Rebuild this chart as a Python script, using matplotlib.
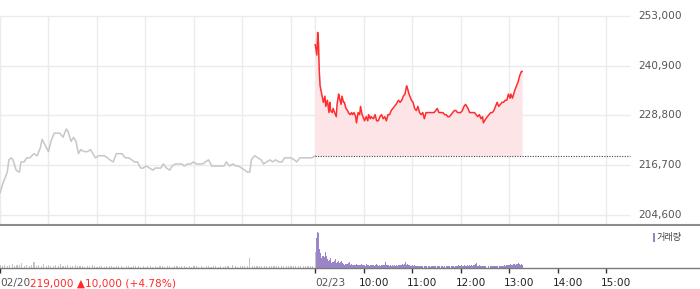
import numpy as np
import matplotlib.pyplot as plt
from matplotlib.patches import Rectangle

# x axis is minutes after 09:00; 02/23 session is drawn right after the 02/20 one
SESSION = 390

# 02/20 price (grey)
day1_min = [0, 4, 6, 9, 11, 14, 16, 20, 24, 26, 30, 33, 37, 42, 46, 50, 52, 56, 60, 63,
            67, 71, 74, 78, 82, 84, 88, 91, 94, 97, 100, 104, 108, 112, 115, 118, 122, 125, 129, 133,
            136, 140, 144, 148, 151, 155, 159, 163, 166, 170, 174, 177, 181, 185, 189, 192, 196, 199, 202, 206,
            210, 213, 217, 221, 225, 228, 232, 236, 239, 243, 247, 251, 254, 258, 262, 266, 269, 273, 277, 280,
            284, 288, 292, 295, 299, 303, 306, 309, 311, 315, 319, 323, 326, 330, 334, 337, 341, 345, 349, 352,
            356, 360, 364, 367, 371, 375, 378, 382, 386, 390]
day1_price = [210000, 212500, 213500, 215000, 218000, 218500, 218000, 215500, 215000, 217500,
              217500, 218500, 218500, 219500, 219000, 221000, 223000, 221500, 220000, 222500,
              224500, 224500, 224500, 223500, 225500, 225000, 222500, 223500, 222500, 219500,
              220500, 220000, 220000, 220500, 219500, 218500, 219000, 219000, 219000, 218500,
              218000, 217500, 219500, 219500, 219500, 218500, 218500, 218000, 217500, 217500,
              216000, 216000, 216500, 216000, 215500, 216000, 216000, 216000, 217000, 216000,
              215500, 216500, 217000, 217000, 217000, 216500, 217000, 217000, 217500, 217000,
              217000, 217000, 217500, 218000, 216500, 216500, 216500, 216500, 216500, 217500,
              216500, 217000, 216500, 216500, 216000, 215500, 215000, 215000, 218000, 219000,
              218500, 218000, 217000, 217500, 218000, 217500, 218000, 217500, 217500, 218500,
              218500, 218500, 218000, 217500, 218500, 218500, 218500, 218500, 218500, 219000]

# 02/23 price (red)
day2_min = [0, 2, 3, 4, 5, 6, 8, 10, 12, 13, 15, 17, 18, 19, 21, 22, 24, 26, 27, 29,
            30, 32, 33, 35, 36, 38, 40, 41, 43, 45, 46, 48, 50, 51, 53, 55, 56, 58, 60, 61,
            63, 65, 66, 68, 69, 72, 74, 76, 78, 80, 82, 84, 86, 88, 90, 92, 94, 96, 98, 100,
            103, 105, 107, 109, 111, 113, 114, 116, 118, 119, 121, 123, 125, 127, 129, 131, 133, 135, 137, 139,
            141, 143, 145, 147, 149, 151, 153, 155, 158, 160, 162, 164, 166, 168, 170, 172, 174, 176, 178, 180,
            182, 184, 186, 189, 191, 193, 195, 197, 199, 201, 203, 205, 207, 208, 211, 213, 215, 217, 219, 221,
            223, 225, 227, 229, 231, 233, 235, 237, 239, 241, 242, 244, 247, 249, 251, 253, 255, 256]
day2_price = [246000, 243500, 249000, 246500, 239500, 236000, 234000, 232000, 233500, 231000,
              232500, 229500, 232000, 230000, 229500, 230500, 229500, 228500, 231500, 234000,
              233000, 231500, 233500, 232000, 232000, 230500, 230000, 229500, 229000, 229500,
              229000, 229500, 228500, 227000, 229500, 229000, 231000, 229000, 228000, 227500,
              228500, 227500, 229000, 228000, 228500, 228000, 229000, 227500, 227500, 228500,
              229000, 228000, 228500, 227500, 229000, 229000, 230000, 230500, 231000, 231500,
              232500, 232000, 232500, 233500, 234000, 236000, 235500, 234000, 233000, 232500,
              232000, 230500, 230000, 231000, 229500, 229000, 229500, 228000, 229500, 229500,
              229500, 229500, 229500, 229500, 230000, 230500, 229500, 229500, 229500, 229000,
              229000, 228500, 228500, 229000, 229500, 230000, 230000, 229500, 229500, 229500,
              230000, 231000, 231500, 230500, 229500, 229500, 229500, 229500, 229000, 228500,
              229000, 228000, 228500, 227000, 228000, 228500, 229000, 229500, 229500, 230000,
              231000, 232000, 231000, 231500, 232000, 232000, 232500, 232500, 234000, 233000,
              234000, 233000, 235000, 236000, 237000, 238500, 239500, 239500]

prev_close = 219000
price_ticks = [204600, 216700, 228800, 240900, 253000]

# volume (thousand shares), 02/20 every 3 minutes, 02/23 every minute
vol1_min = list(range(0, 391, 3))
vol1 = [3, 2, 3, 2, 3, 4, 2, 3, 3, 5,
        2, 3, 2, 3, 6, 2, 3, 2, 4, 2,
        3, 2, 2, 3, 2, 4, 2, 2, 3, 2,
        2, 3, 2, 2, 2, 1, 2, 2, 3, 2,
        1, 2, 2, 1, 2, 2, 2, 1, 2, 2,
        2, 1, 2, 2, 1, 2, 2, 2, 1, 2,
        1, 2, 2, 1, 2, 1, 2, 2, 1, 2,
        2, 1, 2, 2, 1, 2, 2, 1, 2, 1,
        2, 2, 1, 2, 1, 2, 2, 1, 2, 2,
        1, 2, 1, 2, 2, 0, 3, 2, 1, 2,
        2, 2, 2, 10, 2, 2, 2, 2, 2, 2,
        2, 2, 2, 2, 2, 2, 2, 2, 2, 2,
        2, 2, 2, 2, 2, 2, 2, 2, 2, 2,
        16]
vol2 = [0, 0, 30, 36, 35, 19, 13, 15, 10, 12,
        12, 7, 11, 16, 12, 9, 7, 6, 8, 10,
        5, 6, 6, 6, 7, 9, 5, 6, 6, 7,
        5, 6, 5, 7, 5, 4, 3, 4, 3, 4,
        4, 5, 6, 3, 3, 4, 3, 3, 2, 3,
        3, 4, 3, 3, 2, 3, 3, 4, 3, 3,
        3, 3, 2, 3, 4, 3, 3, 2, 3, 3,
        2, 3, 3, 2, 3, 3, 4, 3, 2, 3,
        3, 2, 3, 3, 2, 3, 3, 6, 3, 2,
        3, 3, 2, 3, 2, 3, 3, 2, 3, 2,
        3, 2, 2, 3, 3, 2, 3, 3, 4, 3,
        4, 3, 6, 3, 4, 3, 2, 3, 2, 2,
        3, 2, 2, 3, 2, 2, 2, 0, 2, 2,
        2, 1, 2, 2, 0, 2, 2, 1, 2, 0,
        2, 2, 1, 0, 2, 2, 2, 1, 2, 2,
        0, 2, 2, 1, 2, 0, 2, 2, 2, 1,
        2, 0, 2, 2, 1, 2, 2, 0, 2, 2,
        2, 2, 1, 2, 2, 2, 2, 3, 2, 2,
        2, 3, 2, 2, 2, 3, 2, 2, 3, 2,
        2, 3, 2, 3, 2, 2, 3, 3, 4, 5,
        3, 2, 2, 3, 2, 2, 2, 2, 2, 2,
        2, 2, 0, 0, 2, 0, 0, 2, 2, 2,
        2, 2, 2, 2, 2, 2, 2, 0, 2, 2,
        2, 0, 2, 2, 3, 2, 2, 3, 3, 3,
        3, 3, 4, 3, 3, 4, 3, 4, 3, 4,
        4, 3, 5, 4, 3, 4, 3]

time_ticks = [0, 390, 450, 510, 570, 630, 690, 750]
time_labels = ["02/20", "02/23", "10:00", "11:00", "12:00", "13:00", "14:00", "15:00"]
close_text = "219,000 \u25b210,000 (+4.78%)"

W, H = 700, 289
XMAX = 866
GRID_END = 780

fig = plt.figure(figsize=(W / 100, H / 100), dpi=100)
ax = fig.add_axes([0, 1 - 225 / H, 1, 209 / H])
axv = fig.add_axes([0, 1 - 268 / H, 1, 42 / H])

# price panel
ax.set_xlim(0, XMAX)
ax.set_ylim(202150, 253000)
grid_x = [0, 60, 120, 180, 240, 300, 360] + time_ticks[1:]
ax.vlines(grid_x, 202150, 253000, color="#ebebeb", lw=1, zorder=0)
ax.hlines(price_ticks, 0, GRID_END, color="#ebebeb", lw=1, zorder=0, clip_on=False)

x2 = SESSION + np.array(day2_min)
ax.fill_between(x2, day2_price, prev_close, color="#fde5e7", lw=0, zorder=1)
ax.plot(day1_min, day1_price, color="#c6c6cb", lw=1.1, zorder=2)
ax.plot(x2, day2_price, color="#ff2d2d", lw=1.1, zorder=3)
ax.hlines(prev_close, SESSION, GRID_END, color="#444444", lw=0.8,
          linestyle=(0, (1, 1.3)), zorder=3)

for t in price_ticks:
    ax.text(790, t, f"{t:,}", ha="left", va="center", fontsize=7.6,
            color="#555555", clip_on=False)

ax.set_xticks([])
ax.set_yticks([])
for s in ["top", "left", "right"]:
    ax.spines[s].set_visible(False)
ax.spines["bottom"].set_color("#8c8c8c")
ax.spines["bottom"].set_linewidth(1.5)

# volume panel
axv.set_xlim(0, XMAX)
axv.set_ylim(0, 42)
axv.bar(vol1_min, vol1, width=1.4, color="#c4c4c4", lw=0)
axv.bar(SESSION + np.arange(len(vol2)), vol2, width=1.25, color="#9a86c6", lw=0)

axv.set_yticks([])
axv.set_xticks(time_ticks)
axv.tick_params(axis="x", direction="out", length=3.6, width=1, color="#333333",
                labelbottom=False)
for s in ["top", "left", "right"]:
    axv.spines[s].set_visible(False)
axv.spines["bottom"].set_color("#7a7a7a")
axv.spines["bottom"].set_linewidth(1)

xtr = axv.get_xaxis_transform()
first = None
for pos, lab in zip(time_ticks, time_labels):
    dx = 0 if "/" in lab else -3.6
    col = "#555555" if "/" in lab else "#222222"
    t = axv.annotate(lab, xy=(pos, 0), xycoords=xtr, xytext=(dx, -10.8),
                     textcoords="offset points", ha="left", va="center",
                     fontsize=7.6, color=col)
    if first is None:
        first = t

axv.annotate(close_text, xy=(1, 0.5), xycoords=first, ha="left", va="center",
             fontsize=7.6, color="#ff2a2a")

# legend
fig.add_artist(Rectangle((652.7 / W, 1 - 241.7 / H), 2.6 / W, 8.4 / H,
                         transform=fig.transFigure, color="#9484c4", lw=0))
fig.text(657 / W, 1 - 237.5 / H, "거래량", family=["Noto Sans CJK KR", "DejaVu Sans"],
         fontsize=6.6, color="#444444", ha="left", va="center")

fig.savefig("out.png", dpi=100, facecolor="white")
